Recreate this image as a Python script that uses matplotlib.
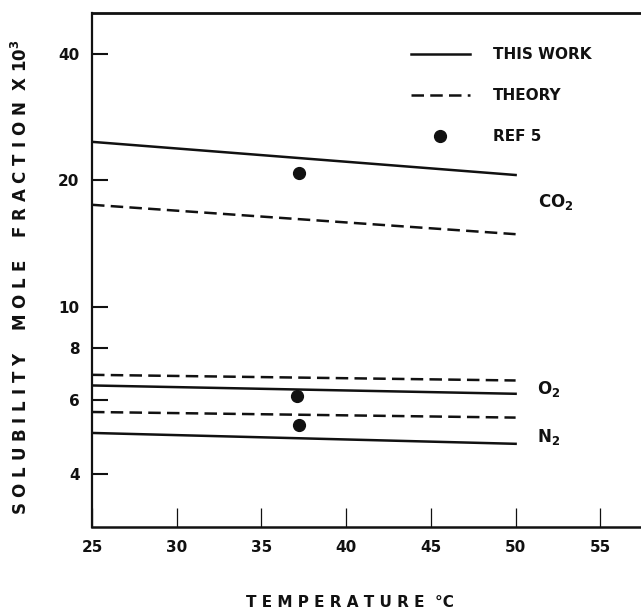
import matplotlib
matplotlib.use('Agg')
import matplotlib.pyplot as plt
from matplotlib.legend_handler import HandlerLine2D

# solubility (mole fraction x 10^3) vs temperature
temps = [25, 50]
co2_work = [24.7, 20.6]
co2_theory = [17.5, 14.9]
o2_work = [6.51, 6.22]
o2_theory = [6.90, 6.69]
n2_work = [5.02, 4.73]
n2_theory = [5.63, 5.46]
ref5_temp = [37.2, 37.1, 37.2]
ref5_sol = [20.8, 6.13, 5.23]

gas_names = ['CO$_{\\mathbf{2}}$', 'O$_{\\mathbf{2}}$', 'N$_{\\mathbf{2}}$']
gas_label_pos = [(51.3, 17.8), (51.25, 6.39), (51.25, 4.92)]

x_ticks = [25, 30, 35, 40, 45, 50, 55]
y_ticks = [4, 6, 8, 10, 20, 40]

plt.rcParams['font.family'] = ['DejaVu Sans']
plt.rcParams['font.weight'] = 'bold'
plt.rcParams['mathtext.fontset'] = 'dejavusans'

ink = '#111111'


class LeftDot(HandlerLine2D):
    # put the single legend marker at the left end of the handle
    def get_xdata(self, legend, xdescent, ydescent, width, height, fontsize):
        xdata, xm = super().get_xdata(legend, xdescent, ydescent, width, height, fontsize)
        return xdata, [-xdescent + 1]


fig = plt.figure(figsize=(6.41, 6.13), dpi=100)
ax = fig.add_axes([92 / 641, (613 - 527) / 613, (641 - 92) / 641, (527 - 13) / 613])

dash = (0, (5, 2.5))
l_work, = ax.plot(temps, co2_work, color=ink, lw=1.8)
l_theory, = ax.plot(temps, co2_theory, color=ink, lw=1.8, linestyle=dash)
ax.plot(temps, o2_work, color=ink, lw=1.8)
ax.plot(temps, o2_theory, color=ink, lw=1.8, linestyle=dash)
ax.plot(temps, n2_work, color=ink, lw=1.8)
ax.plot(temps, n2_theory, color=ink, lw=1.8, linestyle=dash)
l_ref, = ax.plot(ref5_temp, ref5_sol, 'o', color=ink, ms=8.5, linestyle='none')

for name, (tx, ty) in zip(gas_names, gas_label_pos):
    ax.text(tx, ty, name, fontsize=12, fontweight='bold', va='center', ha='left', color=ink)

ax.set_yscale('log')
ax.set_ylim(3, 50)
ax.set_xlim(25, 57.4)
ax.set_yticks(y_ticks)
ax.set_yticklabels([str(v) for v in y_ticks])
ax.yaxis.set_minor_locator(matplotlib.ticker.NullLocator())
ax.set_xticks(x_ticks)
ax.set_xticklabels([str(v) for v in x_ticks])

ax.tick_params(axis='y', direction='in', length=11.5, width=1.5, pad=9,
               labelsize=11, colors=ink)
ax.tick_params(axis='x', direction='in', length=14, width=0.9, pad=9.5,
               labelsize=11, colors=ink)

ax.spines['right'].set_visible(False)
ax.spines['left'].set_linewidth(1.6)
ax.spines['bottom'].set_linewidth(1.8)
ax.spines['top'].set_linewidth(2.0)
for s in ax.spines.values():
    s.set_color(ink)

ax.set_ylabel('S O L U B I L I T Y    M O L E    F R A C T I O N  X 10$^{\\mathbf{3}}$',
              fontsize=12, fontweight='bold', color=ink, va='center')
ax.yaxis.set_label_coords(-0.129, 0.486)
ax.set_xlabel('T E M P E R A T U R E  °C', fontsize=11, fontweight='bold', color=ink,
              va='center')
ax.xaxis.set_label_coords(0.47, -0.146)

leg = ax.legend([l_work, l_theory, l_ref], ['THIS WORK', 'THEORY', 'REF 5'],
                handler_map={l_ref: LeftDot(numpoints=1)},
                loc='upper left', bbox_to_anchor=(0.581, 0.934), frameon=False,
                fontsize=11, handlelength=3.86, handletextpad=1.5,
                labelspacing=1.7, borderpad=0, borderaxespad=0)
for t in leg.get_texts():
    t.set_color(ink)

fig.savefig('out.png', dpi=100)
